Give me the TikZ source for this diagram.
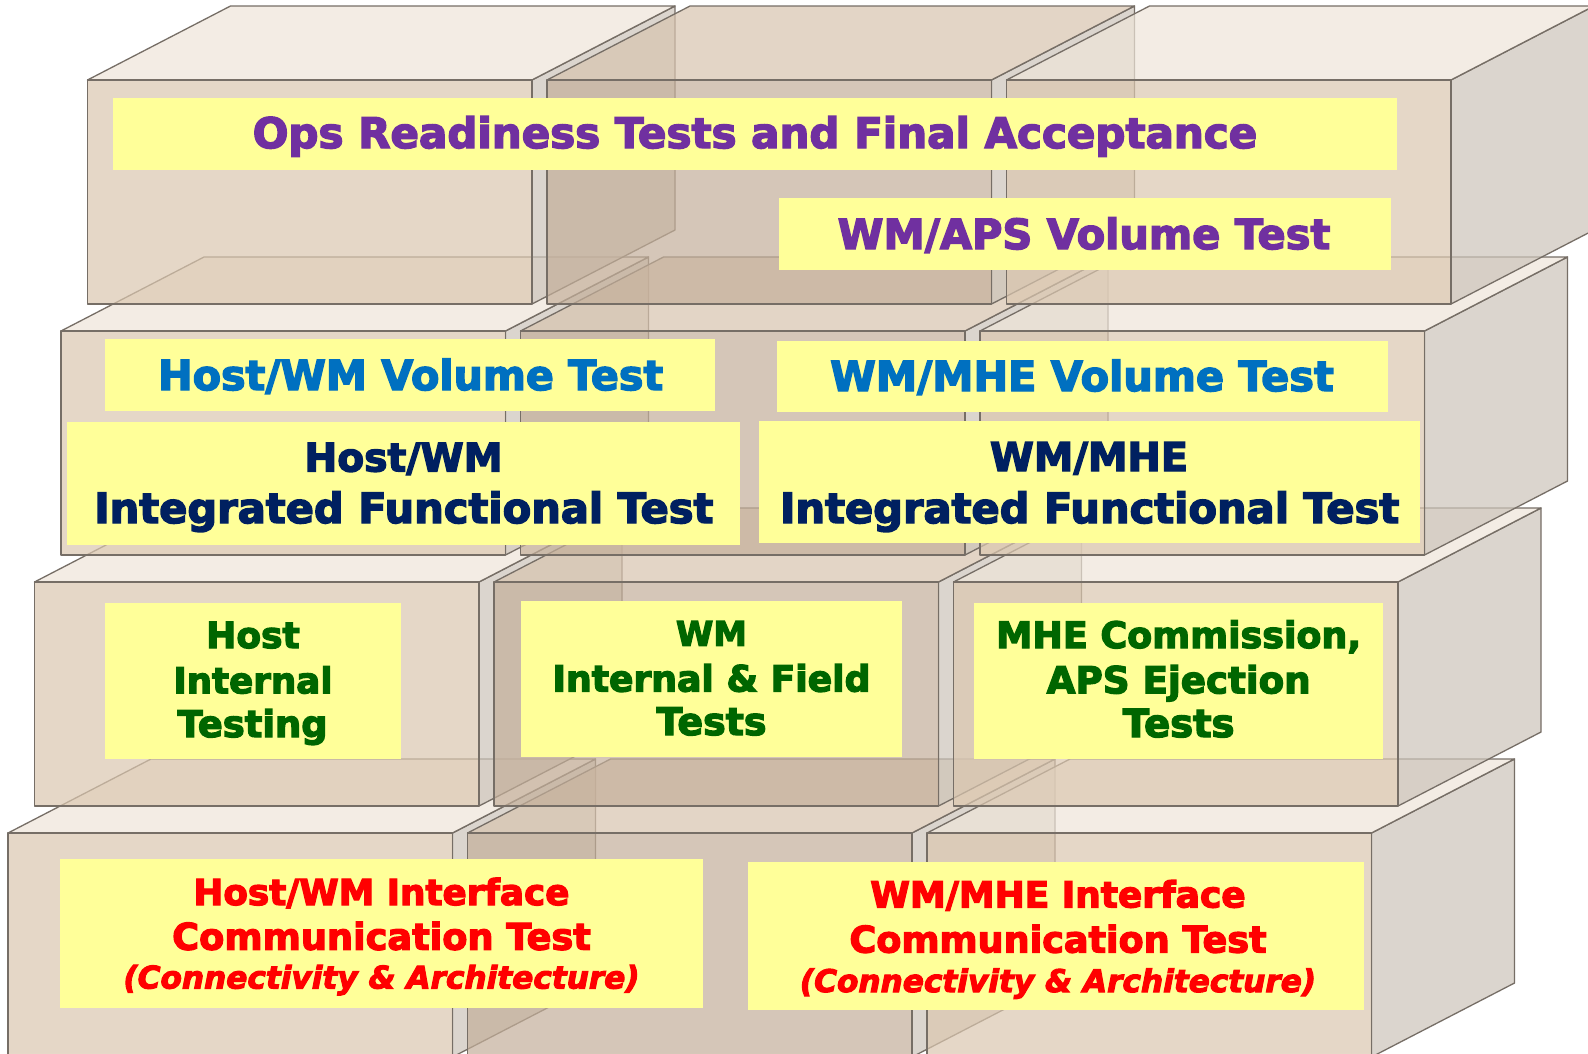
\documentclass[tikz,border=0pt]{standalone}
\usepackage{fontspec}
\setmainfont{DejaVu Sans}[BoldFeatures={FakeBold=3.5}, BoldItalicFeatures={FakeBold=3.5}]
\usepackage{graphicx}
\definecolor{frontAC}{RGB}{219,199,176}
\definecolor{frontB}{RGB}{196,175,154}
\definecolor{topAC}{RGB}{238,229,217}
\definecolor{topB}{RGB}{216,196,175}
\definecolor{sidec}{RGB}{204,196,186}
\definecolor{edgec}{RGB}{118,110,102}
\definecolor{ylw}{RGB}{255,255,153}
\definecolor{cpurple}{RGB}{112,48,160}
\definecolor{cblue}{RGB}{0,112,192}
\definecolor{cnavy}{RGB}{0,32,96}
\definecolor{cgreen}{RGB}{0,102,0}
\definecolor{cred}{RGB}{255,0,0}
\tikzset{
  face/.style={draw=edgec, line width=1.3pt, fill opacity=0.7, line join=round},
  lbl/.style={anchor=base, inner sep=0pt, font=\bfseries},
  ybg/.style={fill=ylw},
}
\newcommand\woodbox[5]{%
  \path[face, fill=sidec] (#2,#3) -- ({#2+143},{#3-74}) -- ({#2+143},{#3+150}) -- (#2,{#3+224}) -- cycle;
  \path[face, fill=#5] (#1,#3) -- (#2,#3) -- ({#2+143},{#3-74}) -- ({#1+143},{#3-74}) -- cycle;
  \path[face, fill=#4] (#1,#3) rectangle (#2,{#3+224});
}
\begin{document}
\begin{tikzpicture}[x=1pt,y=-1pt]
\useasboundingbox (0,0) rectangle (1588,1053);
\clip (0,0) rectangle (1588,1053);
\fill[white] (0,0) rectangle (1588,1053);
% row 4
\woodbox{8}{452.5}{833}{frontAC}{topAC}
\woodbox{467.5}{912}{833}{frontB}{topB}
\woodbox{927}{1371.5}{833}{frontAC}{topAC}
% row 3
\woodbox{34.5}{479}{582}{frontAC}{topAC}
\woodbox{494}{938.5}{582}{frontB}{topB}
\woodbox{953.5}{1398}{582}{frontAC}{topAC}
% row 2
\woodbox{61}{505.5}{331}{frontAC}{topAC}
\woodbox{520.5}{965}{331}{frontB}{topB}
\woodbox{980}{1424.5}{331}{frontAC}{topAC}
% row 1
\woodbox{87.5}{532}{80}{frontAC}{topAC}
\woodbox{547}{991.5}{80}{frontB}{topB}
\woodbox{1006.5}{1451}{80}{frontAC}{topAC}

% yellow labels
\fill[ybg] (113,98) rectangle (1397,170);
\fill[ybg] (779,198) rectangle (1391,269.5);
\fill[ybg] (104.6,339) rectangle (715.3,410.6);
\fill[ybg] (776.5,341) rectangle (1388,412);
\fill[ybg] (66.8,422) rectangle (740,544.5);
\fill[ybg] (758.7,421) rectangle (1419.7,542.6);
\fill[ybg] (105,603.3) rectangle (400.5,758.5);
\fill[ybg] (521,601) rectangle (902,756.8);
\fill[ybg] (974,603) rectangle (1383,758.5);
\fill[ybg] (60.2,859) rectangle (703,1008);
\fill[ybg] (748,862) rectangle (1364,1010);

% texts
\node[lbl, text=cpurple] (ops) at (755,148) {\resizebox{1004.5pt}{!}{Ops Readiness Tests and Final Acceptance}};
\node[lbl, text=cpurple] (aps) at (1084,249) {\resizebox{492.5pt}{!}{WM/APS Volume Test}};
\node[lbl, text=cblue] (hwv) at (410.7,390) {\resizebox{505pt}{!}{Host/WM Volume Test}};
\node[lbl, text=cblue] (wmv) at (1082,391) {\resizebox{503.6pt}{!}{WM/MHE Volume Test}};
\node[lbl, text=cnavy] (hwi1) at (403.6,471.4) {\resizebox{198pt}{!}{Host/WM}};
\node[lbl, text=cnavy] (hwi2) at (403.8,523) {\resizebox{619pt}{!}{Integrated Functional Test}};
\node[lbl, text=cnavy] (wmi1) at (1089,471) {\resizebox{198pt}{!}{WM/MHE}};
\node[lbl, text=cnavy] (wmi2) at (1089.6,523) {\resizebox{619pt}{!}{Integrated Functional Test}};
\node[lbl, text=cgreen] (hit1) at (253,648) {\resizebox{93.4pt}{!}{Host}};
\node[lbl, text=cgreen] (hit2) at (253,693.3) {\resizebox{159.2pt}{!}{Internal}};
\node[lbl, text=cgreen] (hit3) at (252.6,737) {\resizebox{150pt}{!}{Testing}};
\node[lbl, text=cgreen] (wif1) at (711.5,645.7) {\resizebox{71pt}{!}{WM}};
\node[lbl, text=cgreen] (wif2) at (711.5,691.5) {\resizebox{318pt}{!}{Internal \& Field}};
\node[lbl, text=cgreen] (wif3) at (711.5,735) {\resizebox{110pt}{!}{Tests}};
\node[lbl, text=cgreen] (mhe1) at (1178.7,648) {\resizebox{365pt}{!}{MHE Commission,}};
\node[lbl, text=cgreen] (mhe2) at (1178.7,693.3) {\resizebox{264pt}{!}{APS Ejection}};
\node[lbl, text=cgreen] (mhe3) at (1178.7,737) {\resizebox{111.6pt}{!}{Tests}};
\node[lbl, text=cred] (hci1) at (381.5,905) {\resizebox{376pt}{!}{Host/WM Interface}};
\node[lbl, text=cred] (hci2) at (381.5,949.7) {\resizebox{418.5pt}{!}{Communication Test}};
\node[lbl, text=cred] (hci3) at (381.5,988.5) {\resizebox{516pt}{!}{\itshape (Connectivity \& Architecture)}};
\node[lbl, text=cred] (wci1) at (1058,907.4) {\resizebox{375.4pt}{!}{WM/MHE Interface}};
\node[lbl, text=cred] (wci2) at (1058,952.5) {\resizebox{417pt}{!}{Communication Test}};
\node[lbl, text=cred] (wci3) at (1058,992) {\resizebox{516pt}{!}{\itshape (Connectivity \& Architecture)}};
\end{tikzpicture}
\end{document}
